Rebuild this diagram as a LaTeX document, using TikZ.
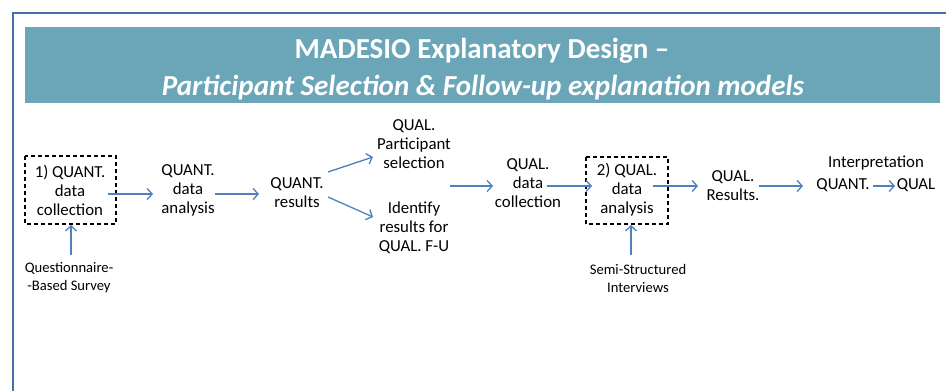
\documentclass[tikz,border=0pt]{standalone}
\usepackage{fontspec}
\setmainfont{Carlito}
\usetikzlibrary{arrows.meta}
\definecolor{banner}{HTML}{6AA6B8}
\definecolor{framec}{HTML}{4A6FA5}
\definecolor{arrc}{HTML}{4F81BD}
\tikzset{
  txt/.style={align=center, inner sep=0pt, font=\fontsize{16.8}{19}\selectfont},
  small/.style={align=center, inner sep=0pt, font=\fontsize{14.6}{18}\selectfont},
  dbox/.style={draw=black, dash pattern=on 4pt off 3pt, line width=1.3pt},
  arr/.style={draw=arrc, line width=1.3pt, -{Straight Barb[length=5pt,width=11pt]}},
}
\begin{document}
\begin{tikzpicture}[x=1pt,y=-1pt]
\useasboundingbox (0,0) rectangle (946,391);
% frame
\draw[framec, line width=2pt] (13,391) -- (13,13) -- (946,13);
% banner
\fill[banner] (25,27) rectangle (940,103);
\node[text=white, font=\fontsize{29}{32}\bfseries\selectfont] (t1) at (482,51) {MADESIO Explanatory Design –};
\node[text=white, font=\fontsize{29}{32}\bfseries\itshape\selectfont] (t2) at (483,88) {Participant Selection \& Follow-up explanation models};
% boxes
\draw[dbox] (25,156) rectangle (116,224);
\coordinate (b1e) at (108,194);
\node[txt] (qdc) at (70,190) {1) QUANT.\\data\\collection};
\node[txt] (qda) at (188,190) {QUANT.\\data\\analysis};
\node[txt] (qr) at (297,193) {QUANT.\\results};
\node[txt] (ps) at (414,144) {QUAL.\\Participant\\selection};
\node[txt] (ir) at (414,228) {Identify\\results for\\QUAL. F-U};
\node[small] (qs) at (69,278) {Questionnaire-\\-Based Survey};
\node[txt] (qldc) at (528,183) {QUAL.\\data\\collection};
\draw[dbox] (586,157) rectangle (668,224);
\node[txt] (qlda) at (627,190) {2) QUAL.\\data\\analysis};
\node[txt] (qlr) at (733,186) {QUAL.\\Results.};
\node[txt] (interp) at (876,163) {Interpretation};
\node[txt, anchor=base] (qn) at (843,189) {QUANT.};
\node[txt, anchor=base] (ql) at (916,189) {QUAL};
\node[small] (ss) at (638,278) {Semi-Structured\\Interviews};
% arrows
\draw[arr] (b1e) -- (153,194);
\draw[arr] (215,194) -- (259,194);
\draw[arr] (328,172) -- (373,157);
\draw[arr] (328,197) -- (373,217);
\draw[arr] (71,255) -- (71,225);
\draw[arr] (450,186) -- (493,186);
\draw[arr] (547,186) -- (592,186);
\draw[arr] (653,186) -- (698,186);
\draw[arr] (759,186) -- (803,186);
\draw[arr] (873,186) -- (895,186);
\draw[arr] (631,255) -- (631,225);
\end{tikzpicture}
\end{document}
